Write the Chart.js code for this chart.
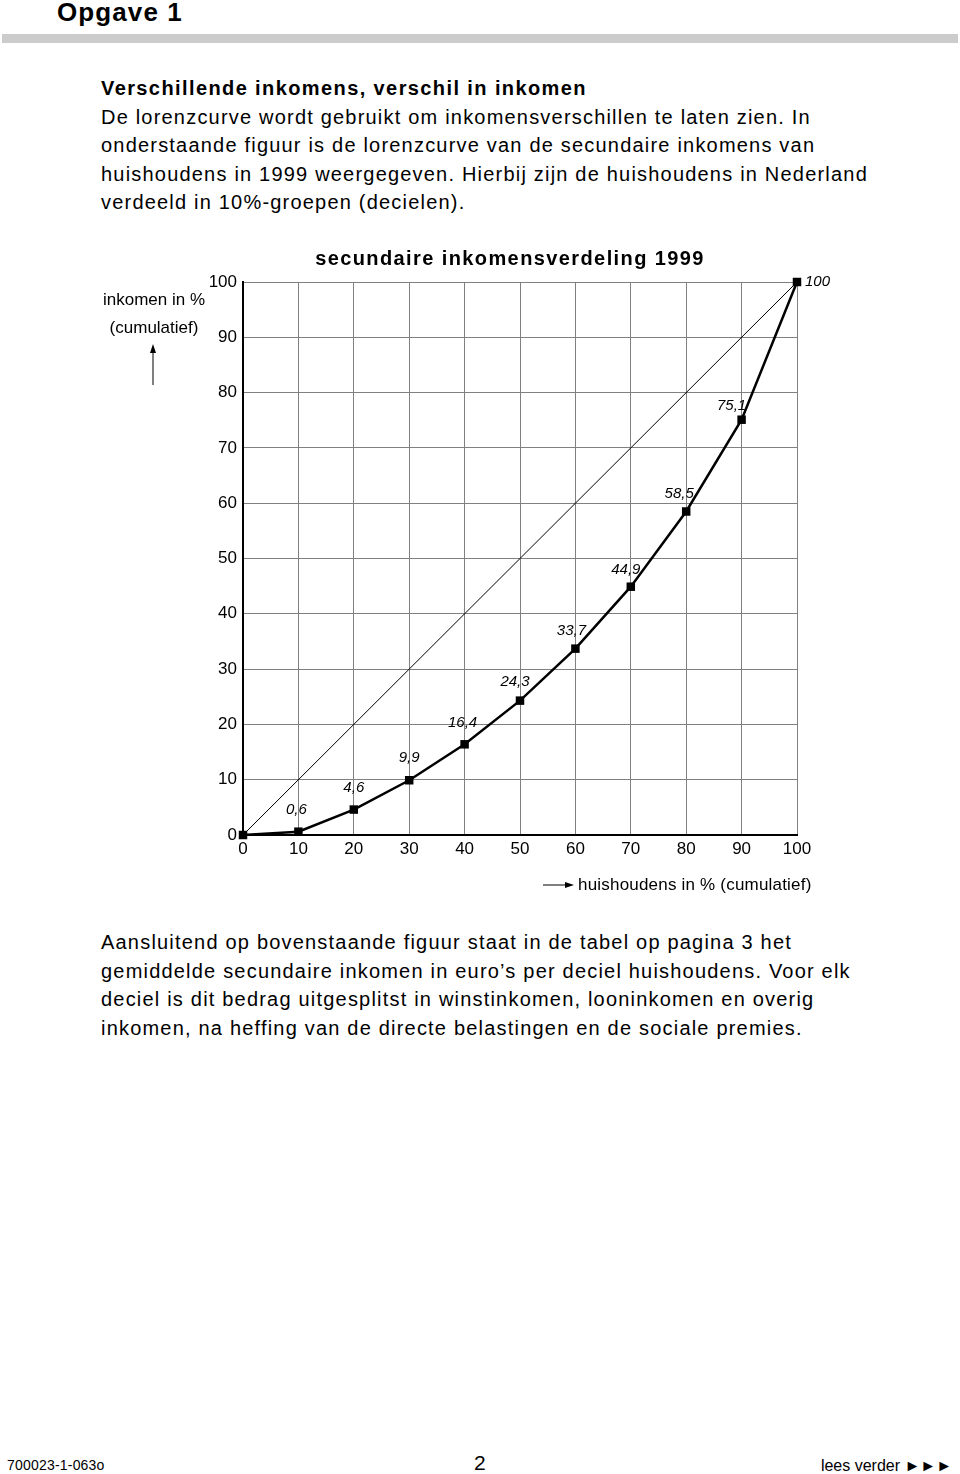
<!DOCTYPE html>
<html>
<head>
<meta charset="utf-8">
<script src="https://cdn.jsdelivr.net/npm/chart.js@4"></script>
<style>
  body { margin: 0; background: #fff; font-family: "Liberation Sans", Arial, sans-serif; color: #000; }
  #page { position: relative; width: 960px; height: 1474px; overflow: hidden; }
  .abs { position: absolute; }
  #head { left: 57px; top: -3px; font-weight: bold; font-size: 26px; letter-spacing: 1.1px; }
  #bar { left: 2px; top: 34px; width: 956px; height: 9px; background: #cccccc; }
  .txt { left: 101px; font-size: 20px; line-height: 28.5px; letter-spacing: 1.2px; white-space: nowrap; }
  .txt b { letter-spacing: 1.4px; }
  #intro { top: 74px; }
  #outro { top: 928px; }
  #chartBox { left: 0; top: 230px; width: 960px; height: 680px; }
  .foot { top: 1457px; }
</style>
</head>
<body>
<div id="page">
  <div id="head" class="abs">Opgave 1</div>
  <div id="bar" class="abs"></div>
  <div id="intro" class="abs txt"><b>Verschillende inkomens, verschil in inkomen</b><br>De lorenzcurve wordt gebruikt om inkomensverschillen te laten zien. In<br>onderstaande figuur is de lorenzcurve van de secundaire inkomens van<br>huishoudens in 1999 weergegeven. Hierbij zijn de huishoudens in Nederland<br>verdeeld in 10%-groepen (decielen).</div>
  <div id="chartBox" class="abs"><canvas id="myChart" width="960" height="680"></canvas></div>
  <div id="outro" class="abs txt">Aansluitend op bovenstaande figuur staat in de tabel op pagina 3 het<br>gemiddelde secundaire inkomen in euro’s per deciel huishoudens. Voor elk<br>deciel is dit bedrag uitgesplitst in winstinkomen, looninkomen en overig<br>inkomen, na heffing van de directe belastingen en de sociale premies.</div>
  <div class="abs foot" style="left:7px; font-size:14px; letter-spacing:0.2px;">700023-1-063o</div>
  <div class="abs foot" style="left:474px; top:1451px; font-size:21px;">2</div>
  <div class="abs foot" style="right:8px; font-size:16px;">lees verder ►►►</div>
</div>
<script>
'use strict';
// cumulatief percentage huishoudens (x) en inkomen (y)
let households = [0, 10, 20, 30, 40, 50, 60, 70, 80, 90, 100];
let income = [0, 0.6, 4.6, 9.9, 16.4, 24.3, 33.7, 44.9, 58.5, 75.1, 100];
// lijn van gelijke verdeling
let equalX = [0, 100];
let equalY = [0, 100];
let tickValues = [0, 10, 20, 30, 40, 50, 60, 70, 80, 90, 100];

let chartTitle = 'secundaire inkomensverdeling 1999';
let yLabel = ['inkomen in %', '(cumulatief)'];
let xLabel = 'huishoudens in % (cumulatief)';

function fmt(v) {
  return v === 100 ? '100' : v.toFixed(1).replace('.', ',');
}

let lorenzPoints = [];
for (let i = 0; i < households.length; i++) {
  lorenzPoints.push({ x: households[i], y: income[i] });
}
let equalPoints = [];
for (let i = 0; i < equalX.length; i++) {
  equalPoints.push({ x: equalX[i], y: equalY[i] });
}

// label offsets from the point (px), style only
let labelShift = [null, [-2, -22], [0, -22], [0, -22], [-2, -21], [-5, -19], [-4, -18], [-5, -17], [-7, -18], [-10, -14], [8, 0]];

let extras = {
  id: 'extras',
  afterDatasetsDraw(chart) {
    let ctx = chart.ctx;
    let a = chart.chartArea;
    ctx.save();
    ctx.fillStyle = '#000';
    ctx.strokeStyle = '#000';

    // titel
    ctx.font = 'bold 20px "Liberation Sans", Arial, sans-serif';
    ctx.letterSpacing = '1.4px';
    ctx.textAlign = 'center';
    ctx.textBaseline = 'middle';
    ctx.fillText(chartTitle, 510, a.top - 23);
    ctx.letterSpacing = '0px';

    // y-as label
    ctx.font = '17px "Liberation Sans", Arial, sans-serif';
    ctx.fillText(yLabel[0], 154, a.top + 18);
    ctx.fillText(yLabel[1], 154, a.top + 46);
    ctx.lineWidth = 1;
    ctx.beginPath();
    ctx.moveTo(153, a.top + 103);
    ctx.lineTo(153, a.top + 65);
    ctx.stroke();
    ctx.beginPath();
    ctx.moveTo(153, a.top + 62);
    ctx.lineTo(150, a.top + 71);
    ctx.lineTo(156, a.top + 71);
    ctx.closePath();
    ctx.fill();

    // x-as label
    ctx.textAlign = 'left';
    ctx.letterSpacing = '0.2px';
    ctx.fillText(xLabel, 578, a.bottom + 50);
    ctx.letterSpacing = '0px';
    ctx.beginPath();
    ctx.moveTo(543, a.bottom + 50);
    ctx.lineTo(570, a.bottom + 50);
    ctx.stroke();
    ctx.beginPath();
    ctx.moveTo(574, a.bottom + 50);
    ctx.lineTo(565, a.bottom + 47);
    ctx.lineTo(565, a.bottom + 53);
    ctx.closePath();
    ctx.fill();

    // waardelabels
    ctx.font = 'italic 15px "Liberation Sans", Arial, sans-serif';
    let meta = chart.getDatasetMeta(1);
    for (let i = 1; i < meta.data.length; i++) {
      let p = meta.data[i];
      let s = labelShift[i];
      ctx.textAlign = i === meta.data.length - 1 ? 'left' : 'center';
      ctx.fillText(fmt(income[i]), p.x + s[0], p.y + s[1]);
    }
    ctx.restore();
  }
};

let ctx = document.getElementById('myChart').getContext('2d');
let myChart = new Chart(ctx, {
  type: 'scatter',
  data: {
    datasets: [{
      label: 'gelijk',
      data: equalPoints,
      showLine: true,
      borderColor: '#000',
      borderWidth: 1,
      pointRadius: 0
    },
    {
      label: 'lorenz',
      data: lorenzPoints,
      showLine: true,
      clip: false,
      borderColor: '#000',
      backgroundColor: '#000',
      borderWidth: 2.5,
      pointStyle: 'rect',
      pointRadius: 6,
      pointBorderWidth: 0
    }]
  },
  options: {
    responsive: false,
    animation: false,
    layout: { padding: { left: 183, right: 163, top: 52, bottom: 45 } },
    plugins: { legend: { display: false }, tooltip: { enabled: false } },
    scales: {
      x: {
        type: 'linear',
        min: 0,
        max: 100,
        afterFit(scale) { scale.height = 30; },
        afterBuildTicks(scale) { scale.ticks = tickValues.map(v => ({ value: v })); },
        ticks: { color: '#000', padding: 4, font: { family: '"Liberation Sans", Arial, sans-serif', size: 17 } },
        grid: { color: '#808080', lineWidth: 1, drawTicks: false },
        border: { color: '#000', width: 2 }
      },
      y: {
        type: 'linear',
        min: 0,
        max: 100,
        afterFit(scale) { scale.width = 60; },
        afterBuildTicks(scale) { scale.ticks = tickValues.map(v => ({ value: v })); },
        ticks: { color: '#000', padding: 6, font: { family: '"Liberation Sans", Arial, sans-serif', size: 17 } },
        grid: { color: '#808080', lineWidth: 1, drawTicks: false },
        border: { color: '#000', width: 2 }
      }
    }
  },
  plugins: [extras]
});
</script>
</body>
</html>
